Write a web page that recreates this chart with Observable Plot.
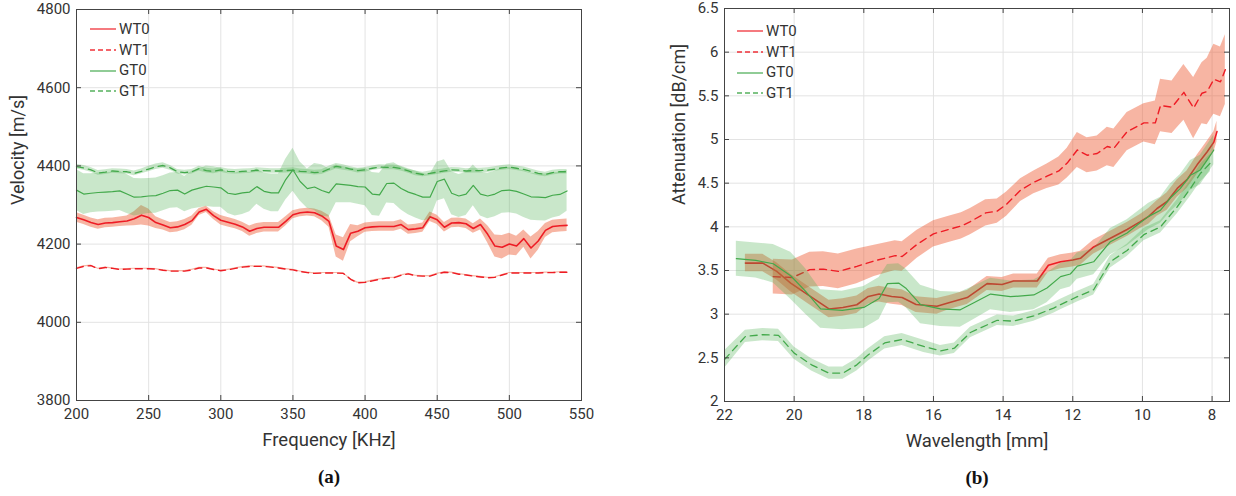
<!DOCTYPE html>
<html><head><meta charset="utf-8">
<script src="https://cdn.jsdelivr.net/npm/d3@7"></script>
<script src="https://cdn.jsdelivr.net/npm/@observablehq/plot@0.6"></script>
<style>
body{margin:0;background:#fff;}
#wrap{position:relative;width:1236px;height:496px;font-family:Roboto,"Liberation Sans",sans-serif;overflow:hidden;}
.panel{position:absolute;top:0;}
.legend{position:absolute;font-size:15px;color:#333;line-height:20.7px;}
.legend div{display:flex;align-items:center;height:20.7px;}
.legend svg{margin-right:2px;}
</style></head><body><div id="wrap"></div>
<script>
// ---------- Panel (a): velocity vs frequency ----------
const freq = [200,205,210,215,220,225,230,235,240,245,250,255,260,265,270,275,280,285,290,295,300,305,310,315,320,325,330,335,340,345,350,355,360,365,370,375,380,385,390,395,400,405,410,415,420,425,430,435,440,445,450,455,460,465,470,475,480,485,490,495,500,505,510,515,520,525,530,535,540];
const velWT0 = [4268,4262,4255,4250,4254,4255,4257,4259,4265,4274,4268,4255,4249,4242,4244,4250,4260,4282,4289,4273,4261,4256,4251,4244,4233,4240,4243,4243,4243,4258,4275,4280,4282,4280,4272,4258,4195,4186,4228,4233,4242,4244,4245,4245,4245,4250,4237,4239,4242,4270,4262,4243,4254,4255,4252,4240,4250,4225,4195,4192,4200,4195,4214,4190,4208,4235,4245,4247,4248];
const sdWT0 = [12,12,12,12,12,12,12,13,18,25,22,15,13,13,13,13,12,9,8,10,12,12,12,12,13,13,12,12,12,12,10,10,10,10,12,15,28,30,22,14,12,12,12,12,12,12,12,12,12,12,12,12,12,12,12,12,14,22,28,30,28,25,22,28,24,18,16,16,16];
const velWT1 = [4138,4143,4145,4137,4140,4138,4135,4136,4137,4137,4137,4136,4133,4131,4131,4131,4134,4139,4139,4135,4132,4134,4138,4141,4143,4143,4143,4141,4139,4136,4134,4130,4127,4125,4126,4126,4126,4125,4110,4101,4102,4106,4110,4113,4114,4120,4124,4119,4118,4118,4124,4128,4127,4123,4121,4118,4116,4114,4115,4121,4126,4126,4126,4126,4126,4127,4127,4128,4128];
const sdWT1 = [1.5,1.5,1.5,1.5,1.5,1.5,1.5,1.5,1.5,1.5,1.5,1.5,1.5,1.5,1.5,1.5,1.5,1.5,1.5,1.5,1.5,1.5,1.5,1.5,1.5,1.5,1.5,1.5,1.5,1.5,1.5,1.5,1.5,1.5,1.5,1.5,1.5,1.5,2,2,2,2,1.5,1.5,1.5,1.5,1.5,1.5,1.5,1.5,1.5,1.5,1.5,1.5,1.5,1.5,1.5,1.5,1.5,1.5,1.5,1.5,1.5,1.5,1.5,1.5,1.5,1.5,1.5];
const velGT0 = [4338,4328,4330,4332,4333,4334,4336,4328,4320,4321,4323,4324,4330,4337,4338,4328,4338,4343,4348,4346,4344,4330,4327,4331,4333,4347,4335,4331,4331,4365,4390,4360,4342,4346,4337,4331,4354,4352,4350,4347,4346,4328,4326,4355,4356,4342,4333,4327,4320,4320,4360,4366,4330,4323,4328,4350,4328,4323,4328,4337,4338,4335,4328,4321,4320,4319,4325,4327,4336];
const sdGT0 = [52,52,50,50,50,50,50,50,48,46,45,45,45,45,45,45,48,50,52,52,50,52,55,55,50,45,46,48,48,52,55,50,50,60,66,62,48,46,44,45,48,55,55,50,52,55,58,60,60,58,50,50,55,55,55,52,56,58,58,58,58,58,60,60,60,60,58,56,52];
const velGT1 = [4398,4395,4390,4382,4384,4387,4386,4385,4381,4386,4392,4398,4401,4395,4385,4383,4385,4393,4388,4386,4390,4386,4385,4386,4387,4389,4388,4387,4387,4388,4389,4386,4385,4383,4384,4392,4399,4396,4392,4388,4390,4394,4397,4396,4396,4393,4387,4381,4378,4381,4384,4387,4390,4389,4387,4388,4388,4389,4392,4395,4397,4394,4391,4386,4381,4378,4383,4385,4385];
const sdGT1 = [6,6,6,6,6,6,6,6,6,6,7,7,7,6,6,6,6,6,6,6,6,6,6,6,6,6,6,6,6,6,6,6,6,6,6,7,7,7,6,6,6,6,6,6,6,6,6,6,6,6,6,6,6,6,6,6,6,6,6,6,6,6,6,6,6,6,6,6,6];
const freqTicks = [200,250,300,350,400,450,500,550];
const velTicks = [3800,4000,4200,4400,4600,4800];

// ---------- Panel (b): attenuation vs wavelength ----------
const wlWT0 = [21.4,20.9,20.5,20.1,19.6,19.0,18.6,18.2,17.87,17.56,17.2,16.9,16.5,15.9,15.56,15.03,14.46,14.03,13.7,13.02,12.7,12.35,12.0,11.78,11.4,10.92,10.44,10.06,9.82,9.58,9.29,9.0,8.72,8.43,8.14,7.95,7.86];
const attWT0 = [3.585,3.585,3.49,3.356,3.22,3.06,3.077,3.108,3.203,3.23,3.203,3.19,3.11,3.09,3.13,3.19,3.35,3.34,3.38,3.38,3.56,3.60,3.62,3.64,3.77,3.87,3.97,4.06,4.12,4.21,4.29,4.44,4.54,4.71,4.86,4.97,5.09];
const asdWT0 = [0.1,0.1,0.1,0.1,0.1,0.1,0.1,0.1,0.09,0.09,0.09,0.09,0.09,0.09,0.08,0.08,0.08,0.08,0.08,0.08,0.08,0.08,0.08,0.08,0.08,0.08,0.08,0.08,0.09,0.09,0.1,0.1,0.1,0.11,0.12,0.12,0.12];
const wlWT1 = [20.6,20.05,19.55,19.16,18.73,18.2,17.7,17.1,16.9,16.47,16.0,15.56,15.2,14.94,14.5,14.17,13.9,13.5,13.12,12.74,12.4,12.16,11.87,11.59,11.3,11.01,10.82,10.44,9.96,9.63,9.48,9.15,8.81,8.53,8.29,8.14,7.95,7.76,7.62];
const attWT1 = [3.43,3.42,3.51,3.516,3.49,3.547,3.61,3.67,3.66,3.80,3.92,3.97,4.01,4.06,4.16,4.18,4.26,4.42,4.51,4.58,4.64,4.73,4.88,4.82,4.84,4.92,4.90,5.09,5.19,5.19,5.39,5.37,5.54,5.36,5.53,5.55,5.69,5.66,5.80];
const asdWT1 = [0.2,0.2,0.2,0.2,0.2,0.2,0.18,0.17,0.17,0.16,0.15,0.15,0.15,0.15,0.15,0.14,0.14,0.13,0.13,0.14,0.16,0.17,0.2,0.2,0.2,0.22,0.22,0.22,0.22,0.25,0.3,0.3,0.32,0.35,0.35,0.38,0.4,0.4,0.4];
const wlGT0 = [21.66,21.1,20.6,20.1,19.67,19.24,18.62,18.0,17.56,17.32,17.0,16.8,16.37,15.8,15.23,14.84,14.36,13.79,13.12,12.74,12.35,12.07,11.87,11.4,10.92,10.44,10.15,9.82,9.48,9.2,8.91,8.62,8.34,8.1,7.95];
const attGT0 = [3.635,3.615,3.577,3.44,3.26,3.06,3.043,3.077,3.18,3.35,3.356,3.30,3.11,3.06,3.05,3.13,3.23,3.20,3.22,3.30,3.43,3.46,3.55,3.60,3.83,3.93,4.02,4.12,4.19,4.33,4.44,4.59,4.65,4.79,4.88];
const asdGT0 = [0.2,0.2,0.22,0.27,0.26,0.22,0.22,0.24,0.24,0.22,0.22,0.22,0.22,0.2,0.2,0.19,0.18,0.18,0.17,0.17,0.15,0.15,0.15,0.15,0.15,0.15,0.15,0.15,0.15,0.16,0.16,0.17,0.17,0.17,0.17];
const wlGT1 = [22.0,21.4,20.9,20.45,20.0,19.5,19.0,18.6,18.2,17.87,17.4,16.9,16.28,15.8,15.4,14.94,14.17,13.7,13.12,12.55,12.35,11.87,11.4,10.92,10.44,9.96,9.48,9.0,8.62,8.34,8.05];
const attGT1 = [2.48,2.745,2.765,2.757,2.554,2.42,2.325,2.325,2.42,2.535,2.67,2.71,2.63,2.58,2.61,2.79,2.93,2.92,2.98,3.07,3.11,3.20,3.28,3.60,3.73,3.91,4.0,4.23,4.44,4.61,4.73];
const asdGT1 = [0.1,0.07,0.07,0.07,0.07,0.07,0.07,0.07,0.07,0.07,0.07,0.07,0.07,0.06,0.06,0.06,0.06,0.06,0.06,0.06,0.06,0.06,0.06,0.07,0.07,0.07,0.07,0.08,0.09,0.1,0.1];
const wlTicks = [22,20,18,16,14,12,10,8];
const attTicks = [2,2.5,3,3.5,4,4.5,5,5.5,6,6.5];

const seriesNames = ["WT0","WT1","GT0","GT1"];
const RED = "#ee1c25", GREEN = "#43a94b";
const BAND_R = "#ee5a33", BAND_G = "#4cb050";
const styles = {
  WT0: {stroke: RED, dash: null, band: BAND_R, bandOp: 0.45, w: 1.6},
  WT1: {stroke: RED, dash: "7,5", band: BAND_R, bandOp: 0.45, w: 1.4},
  GT0: {stroke: GREEN, dash: null, band: BAND_G, bandOp: 0.3, w: 1.2},
  GT1: {stroke: GREEN, dash: "7,5", band: BAND_G, bandOp: 0.3, w: 1.3}
};
const AX = "#333";
const W = 618, H = 496;

function rows(xs, ys, sds) { return xs.map((x, i) => ({x, y: ys[i], lo: ys[i] - sds[i], hi: ys[i] + sds[i]})); }

function panel(cfg) {
  const innerW = W - cfg.ml - cfg.mr, innerH = H - cfg.mt - cfg.mb;
  const marks = [
    Plot.gridX(cfg.xTicks, {stroke: "#e3e3e3", strokeOpacity: 1}),
    Plot.gridY(cfg.yTicks, {stroke: "#e3e3e3", strokeOpacity: 1})
  ];
  for (const s of cfg.series) {
    const st = styles[s.name];
    const r = rows(s.x, s.y, s.sd);
    marks.push(Plot.areaY(r, {x: "x", y1: "lo", y2: "hi", fill: st.band, fillOpacity: st.bandOp}));
    marks.push(Plot.line(r, {x: "x", y: "y", stroke: st.stroke, strokeWidth: st.w, strokeDasharray: st.dash}));
  }
  marks.push(
    Plot.frame({stroke: "#444", strokeWidth: 1}),
    Plot.tickX(cfg.xTicks, {x: d => d, insetTop: innerH - 5, stroke: "#444"}),
    Plot.tickX(cfg.xTicks, {x: d => d, insetBottom: innerH - 5, stroke: "#444"}),
    Plot.tickY(cfg.yTicks, {y: d => d, insetRight: innerW - 5, stroke: "#444"}),
    Plot.tickY(cfg.yTicks, {y: d => d, insetLeft: innerW - 5, stroke: "#444"}),
    Plot.axisX(cfg.xTicks, {tickSize: 0, tickPadding: 8, fontSize: 15, color: AX, label: null, tickFormat: d => String(d)}),
    Plot.axisY(cfg.yTicks, {tickSize: 0, tickPadding: 6, fontSize: 15, color: AX, label: null, tickFormat: d => String(d)}),
    Plot.text([cfg.xLabel], {frameAnchor: "bottom", dy: 40, fontSize: 18.5, fill: AX, lineAnchor: "middle"}),
    Plot.text([cfg.yLabel], {frameAnchor: "left", dx: cfg.ylDx, rotate: -90, fontSize: 18, fill: AX, lineAnchor: "middle"}),
    Plot.text([cfg.caption], {frameAnchor: "bottom", dy: 76, fontSize: 19, fontWeight: "bold", fill: "#111", fontFamily: "Liberation Serif, serif", lineAnchor: "middle"})
  );
  return Plot.plot({
    width: W, height: H,
    marginLeft: cfg.ml, marginRight: cfg.mr, marginTop: cfg.mt, marginBottom: cfg.mb,
    style: {fontFamily: "Roboto, 'Liberation Sans', sans-serif", background: "white", overflow: "visible"},
    x: {domain: cfg.xDomain},
    y: {domain: cfg.yDomain},
    marks
  });
}

function legend(left, top) {
  const div = document.createElement("div");
  div.className = "legend";
  div.style.left = left + "px";
  div.style.top = top + "px";
  for (const n of seriesNames) {
    const st = styles[n];
    const row = document.createElement("div");
    row.innerHTML = `<svg width="28" height="10"><line x1="1" x2="27" y1="5" y2="5" stroke="${st.stroke}" stroke-width="1.3" ${st.dash ? 'stroke-dasharray="5,3"' : ''} stroke-opacity="0.9"/></svg><span>${n}</span>`;
    div.appendChild(row);
  }
  return div;
}

const wrap = document.getElementById("wrap");

const a = panel({
  ml: 76, mr: 37, mt: 9, mb: 96,
  xDomain: [200, 550], yDomain: [3800, 4800],
  xTicks: freqTicks, yTicks: velTicks,
  xLabel: "Frequency [KHz]", yLabel: "Velocity [m/s]", ylDx: -58, caption: "(a)",
  series: [
    {name: "WT0", x: freq, y: velWT0, sd: sdWT0},
    {name: "WT1", x: freq, y: velWT1, sd: sdWT1},
    {name: "GT0", x: freq, y: velGT0, sd: sdGT0},
    {name: "GT1", x: freq, y: velGT1, sd: sdGT1}
  ]
});
a.classList.add("panel"); a.style.left = "0px";
wrap.appendChild(a);

const b = panel({
  ml: 106, mr: 7, mt: 8, mb: 95,
  xDomain: [22, 7.5], yDomain: [2, 6.5],
  xTicks: wlTicks, yTicks: attTicks,
  xLabel: "Wavelength [mm]", yLabel: "Attenuation [dB/cm]", ylDx: -45, caption: "(b)",
  series: [
    {name: "WT0", x: wlWT0, y: attWT0, sd: asdWT0},
    {name: "WT1", x: wlWT1, y: attWT1, sd: asdWT1},
    {name: "GT0", x: wlGT0, y: attGT0, sd: asdGT0},
    {name: "GT1", x: wlGT1, y: attGT1, sd: asdGT1}
  ]
});
b.classList.add("panel"); b.style.left = "618px";
wrap.appendChild(b);

wrap.appendChild(legend(89, 19));
wrap.appendChild(legend(736, 21));
</script></body></html>
